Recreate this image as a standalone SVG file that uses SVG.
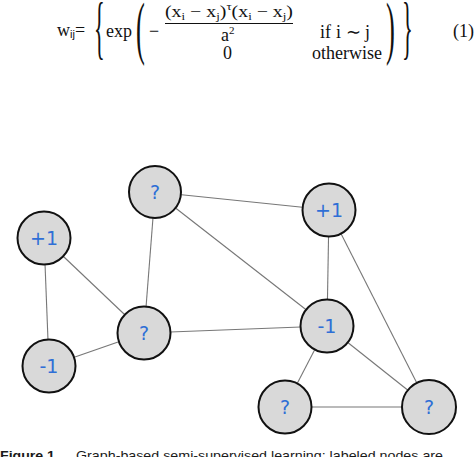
<svg xmlns="http://www.w3.org/2000/svg" width="474" height="457" viewBox="0 0 474 457">
<style>
.eq{font-family:"Liberation Serif","Times New Roman",serif;fill:#111;}
.sub{font-size:11px;}
.node circle{fill:#d9d9d9;stroke:#111;stroke-width:2;}
.node text{font-family:"DejaVu Sans",Verdana,sans-serif;font-size:19px;fill:#2f6fd6;text-anchor:middle;}
.edges line{stroke:#777;stroke-width:1.1;}
.cap{font-family:"Liberation Sans",Arial,sans-serif;font-size:13px;fill:#1a1a1a;}
</style>
<rect width="474" height="457" fill="#fff"/>
<g id="equation" class="eq">
  <text x="57" y="36" font-size="18">w<tspan class="sub" dy="2" font-family="Liberation Sans, Arial, sans-serif">ij</tspan><tspan dy="-2">=</tspan></text>
  <text transform="translate(94,51) scale(0.8,2.5)" font-size="28">{</text>
  <text x="106" y="37" font-size="18">exp</text>
  <text transform="translate(136,51) scale(0.95,2.5)" font-size="28">(</text>
  <text x="149" y="37" font-size="18">−</text>
  <text x="165" y="17" font-size="17" textLength="128" lengthAdjust="spacingAndGlyphs">(x<tspan class="sub" dy="3">i</tspan><tspan dy="-3"> − x</tspan><tspan class="sub" dy="3">j</tspan><tspan dy="-3">)</tspan><tspan class="sub" dy="-7">τ</tspan><tspan dy="7">(x</tspan><tspan class="sub" dy="3">i</tspan><tspan dy="-3"> − x</tspan><tspan class="sub" dy="3">j</tspan><tspan dy="-3">)</tspan></text>
  <line x1="165" y1="23.5" x2="293" y2="23.5" stroke="#111" stroke-width="1"/>
  <text x="221" y="41" font-size="18">a<tspan class="sub" dy="-7">2</tspan></text>
  <text x="223" y="59" font-size="18">0</text>
  <text x="320" y="38" font-size="18">if<tspan x="336">i ∼ j</tspan></text>
  <text x="312" y="59" font-size="18">otherwise</text>
  <text transform="translate(386,51) scale(0.95,2.5)" font-size="28">)</text>
  <text transform="translate(402,51) scale(0.8,2.5)" font-size="28">}</text>
  <text x="453" y="37" font-size="18">(1)</text>
</g>
<g id="connectors" class="edges">
  <line x1="155" y1="192" x2="329" y2="210"/>
  <line x1="155" y1="192" x2="327" y2="326"/>
  <line x1="155" y1="192" x2="144" y2="333"/>
  <line x1="44" y1="238" x2="144" y2="333"/>
  <line x1="44" y1="238" x2="49" y2="366"/>
  <line x1="49" y1="366" x2="144" y2="333"/>
  <line x1="144" y1="333" x2="327" y2="326"/>
  <line x1="329" y1="210" x2="327" y2="326"/>
  <line x1="329" y1="210" x2="429" y2="407"/>
  <line x1="327" y1="326" x2="429" y2="407"/>
  <line x1="327" y1="326" x2="285" y2="407"/>
  <line x1="285" y1="407" x2="429" y2="407"/>
</g>
<g id="node-q1" class="node"><circle cx="155" cy="192" r="26"/><text x="155" y="199">?</text></g>
<g id="node-p1-left" class="node"><circle cx="44" cy="238" r="26.5"/><text x="44" y="245">+1</text></g>
<g id="node-p1-right" class="node"><circle cx="329" cy="210" r="26.5"/><text x="329" y="217">+1</text></g>
<g id="node-q2" class="node"><circle cx="144" cy="333" r="26.5"/><text x="144" y="340">?</text></g>
<g id="node-m1-left" class="node"><circle cx="49" cy="366" r="26.5"/><text x="49" y="373">-1</text></g>
<g id="node-m1-right" class="node"><circle cx="327" cy="326" r="26.5"/><text x="327" y="333">-1</text></g>
<g id="node-q3" class="node"><circle cx="285" cy="407" r="26.5"/><text x="285" y="414">?</text></g>
<g id="node-q4" class="node"><circle cx="429" cy="407" r="27"/><text x="429" y="414">?</text></g>
<text class="cap" x="0" y="460" font-weight="bold" textLength="55" lengthAdjust="spacingAndGlyphs">Figure 1</text>
<text class="cap" x="76" y="460" textLength="367" lengthAdjust="spacingAndGlyphs">Graph-based semi-supervised learning: labeled nodes are</text>
</svg>
